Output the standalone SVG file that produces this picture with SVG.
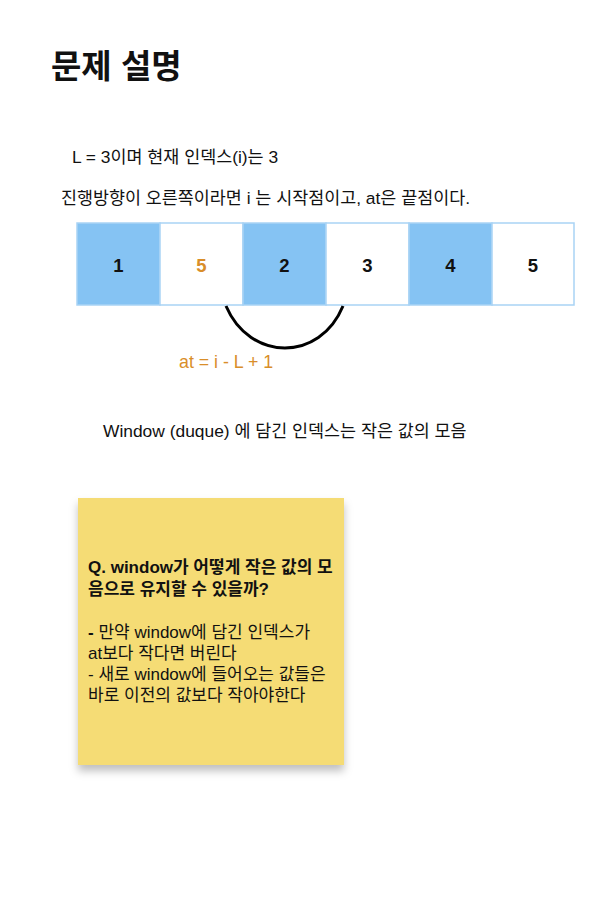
<svg xmlns="http://www.w3.org/2000/svg" width="611" height="923" viewBox="0 0 611 923">
<style>
text{font-family:"Liberation Sans","Noto Sans CJK KR",sans-serif;fill:#111}
.t{font-size:17.4px}
.cell{stroke:#A9D3F5;stroke-width:1.5}
.blue{fill:#85C3F3}
.white{fill:#fff}
.num{font-size:18.5px;font-weight:bold;text-anchor:middle}
.note{font-size:17px}
</style>
<defs>
<filter id="sh" x="-10%" y="-10%" width="125%" height="125%">
<feDropShadow dx="0" dy="6" stdDeviation="4" flood-color="#000" flood-opacity="0.25"/>
</filter>
</defs>
<rect width="611" height="923" fill="#fff"/>
<text x="51" y="78" style="font-size:33px;font-weight:bold">문제 설명</text>
<text class="t" x="72" y="163">L = 3이며 현재 인덱스(i)는 3</text>
<text class="t" x="61" y="204">진행방향이 오른쪽이라면 i 는 시작점이고, at은 끝점이다.</text>
<g id="cell1"><rect class="cell blue" x="77" y="223" width="83" height="82"/><text class="num" x="118.5" y="272">1</text></g>
<g id="cell2"><rect class="cell white" x="160" y="223" width="83" height="82"/><text class="num" x="201.5" y="272" style="fill:#D98E2A">5</text></g>
<g id="cell3"><rect class="cell blue" x="243" y="223" width="83" height="82"/><text class="num" x="284.5" y="272">2</text></g>
<g id="cell4"><rect class="cell white" x="326" y="223" width="83" height="82"/><text class="num" x="367.5" y="272">3</text></g>
<g id="cell5"><rect class="cell blue" x="409" y="223" width="83" height="82"/><text class="num" x="450.5" y="272">4</text></g>
<g id="cell6"><rect class="cell white" x="492" y="223" width="82" height="82"/><text class="num" x="533" y="272">5</text></g>
<g id="connectors">
<path d="M226,306 C250,362 320,362 343,306" fill="none" stroke="#000" stroke-width="3"/>
</g>
<text class="t" x="179" y="368" style="fill:#D98E2A;font-size:17.8px">at = i - L + 1</text>
<text class="t" x="103" y="437">Window (duque) 에 담긴 인덱스는 작은 값의 모음</text>
<g id="note">
<rect x="78" y="498" width="266" height="267" fill="#F5DC74" filter="url(#sh)"/>
<text class="note" x="88" y="573" style="font-weight:bold">Q. window가 어떻게 작은 값의 모</text>
<text class="note" x="88" y="595" style="font-weight:bold">음으로 유지할 수 있을까?</text>
<text class="note" x="88" y="638"><tspan style="font-weight:bold">-</tspan> 만약 window에 담긴 인덱스가</text>
<text class="note" x="88" y="659">at보다 작다면 버린다</text>
<text class="note" x="88" y="680">- 새로 window에 들어오는 값들은</text>
<text class="note" x="88" y="701">바로 이전의 값보다 작아야한다</text>
</g>
</svg>
